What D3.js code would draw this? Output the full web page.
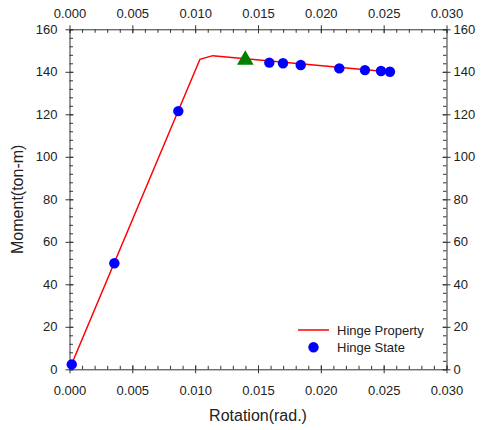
<!DOCTYPE html>
<html>
<head>
<meta charset="utf-8">
<script src="https://cdn.jsdelivr.net/npm/d3@7"></script>
<style>
  body { margin: 0; background: #fff; }
  svg { display: block; font-family: "Liberation Sans", Arial, sans-serif; }
  .axis text { font-size: 13px; fill: #222; }
  .axis path, .axis line { stroke: #333; }
</style>
</head>
<body>
<div id="chart"></div>
<script>
// hinge property curve (rotation, moment)
const propRot = [0, 0.01038, 0.0114, 0.02575];
const propMom = [0, 145.9, 147.6, 139.8];

// hinge state points
const stateRot = [0.00018, 0.00357, 0.00866, 0.0159, 0.01699, 0.0184, 0.02147, 0.02351, 0.02479, 0.0255];
const stateMom = [2.3, 49.9, 121.5, 144.3, 144.0, 143.2, 141.6, 140.8, 140.4, 140.0];

// current state (triangle)
const curRot = [0.01399];
const curMom = [145.6];

const xTicks = [0, 0.005, 0.01, 0.015, 0.02, 0.025, 0.03];
const yTicks = [0, 20, 40, 60, 80, 100, 120, 140, 160];

const W = 484, H = 430;
const mLeft = 69.5, mRight = 446.5, mTop = 29.3, mBottom = 369.3;

const svg = d3.select("#chart").append("svg")
  .attr("width", W).attr("height", H);

const x = d3.scaleLinear().domain([0, 0.03]).range([mLeft, mRight]);
const y = d3.scaleLinear().domain([0, 160]).range([mBottom, mTop]);

const xMinor = d3.range(0, 31).map(i => i / 1000);
const yMinor = d3.range(0, 41).map(i => i * 4);

// axes: minor ticks inside, major ticks crossing
function drawAxis(axisFn, scale, tr, minors, majors, fmt, pad) {
  const g = svg.append("g").attr("class", "axis").attr("transform", tr);
  g.call(axisFn(scale).tickValues(minors).tickSize(-3.5).tickSizeOuter(0).tickFormat(""));
  g.append("g").call(axisFn(scale).tickValues(majors).tickSize(-4).tickSizeOuter(0).tickFormat(""))
    .select(".domain").remove();
  g.append("g").call(axisFn(scale).tickValues(majors).tickSize(4).tickPadding(pad).tickFormat(fmt))
    .select(".domain").remove();
  g.selectAll("text").attr("font-size", 13);
  return g;
}

const fx = d3.format(".3f");
const fy = d3.format("d");
drawAxis(d3.axisBottom, x, `translate(0,${mBottom})`, xMinor, xTicks, fx, 12);
drawAxis(d3.axisTop, x, `translate(0,${mTop})`, xMinor, xTicks, fx, 7);
drawAxis(d3.axisLeft, y, `translate(${mLeft},0)`, yMinor, yTicks, fy, 8);
drawAxis(d3.axisRight, y, `translate(${mRight},0)`, yMinor, yTicks, fy, 3);

// axis titles
svg.append("text")
  .attr("x", (mLeft + mRight) / 2).attr("y", 421)
  .attr("text-anchor", "middle").attr("font-size", 16).attr("fill", "#222")
  .text("Rotation(rad.)");
svg.append("text")
  .attr("transform", `translate(23,${(mTop + mBottom) / 2}) rotate(-90)`)
  .attr("text-anchor", "middle").attr("font-size", 16).attr("fill", "#222")
  .text("Moment(ton-m)");

// property line
const line = d3.line().x(i => x(propRot[i])).y(i => y(propMom[i]));
svg.append("path")
  .attr("d", line(d3.range(propRot.length)))
  .attr("fill", "none").attr("stroke", "#ff0000").attr("stroke-width", 1.5);

// state points
svg.append("g").selectAll("circle")
  .data(d3.range(stateRot.length))
  .join("circle")
    .attr("cx", i => x(stateRot[i]))
    .attr("cy", i => y(stateMom[i]))
    .attr("r", 5.2)
    .attr("fill", "#0000ff");

// current state triangle
const tri = d3.symbol().type(d3.symbolTriangle).size(120);
svg.append("g").selectAll("path")
  .data(d3.range(curRot.length))
  .join("path")
    .attr("d", tri)
    .attr("transform", i => `translate(${x(curRot[i])},${y(curMom[i])})`)
    .attr("fill", "#008000");

// legend
const lg = svg.append("g");
lg.append("line").attr("x1", 298).attr("x2", 329).attr("y1", 330).attr("y2", 330)
  .attr("stroke", "#ff0000").attr("stroke-width", 1.5);
lg.append("text").attr("x", 337).attr("y", 334.5).attr("font-size", 13).attr("fill", "#222")
  .text("Hinge Property");
lg.append("circle").attr("cx", 313.5).attr("cy", 347.3).attr("r", 5.2).attr("fill", "#0000ff");
lg.append("text").attr("x", 337).attr("y", 352).attr("font-size", 13).attr("fill", "#222")
  .text("Hinge State");
</script>
</body>
</html>
